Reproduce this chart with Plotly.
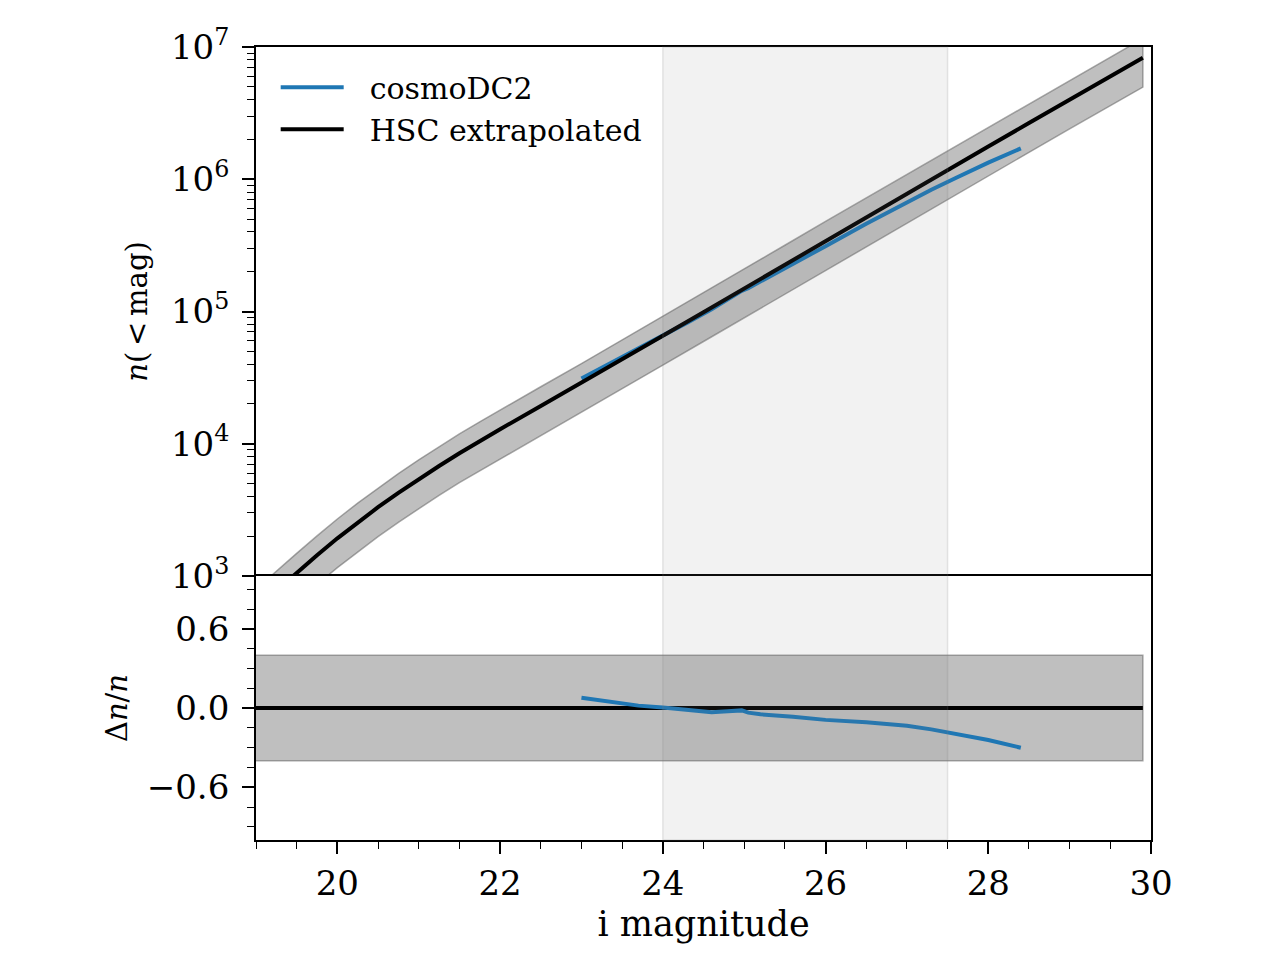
import plotly.graph_objects as go
from plotly.subplots import make_subplots

# HSC extrapolated cumulative number counts, log10 n(<mag), vs i magnitude
hsc_mag = [18.9, 19.0, 19.25, 19.5, 19.75, 20.0, 20.25, 20.5, 20.75, 21.0, 21.25, 21.5,
           21.75, 22.0, 22.5, 23.0, 23.5, 24.0, 24.5, 25.0, 25.5, 26.0, 26.5, 27.0,
           27.5, 28.0, 28.5, 29.0, 29.5, 29.9]
hsc_log10n = [2.70, 2.755, 2.89, 3.025, 3.157, 3.285, 3.405, 3.52, 3.628, 3.732, 3.832, 3.928,
              4.02, 4.11, 4.285, 4.46, 4.638, 4.816, 4.995, 5.175, 5.355, 5.535, 5.713, 5.891,
              6.069, 6.247, 6.425, 6.603, 6.78, 6.918]
hsc_frac_err = 0.4

# cosmoDC2 counts and fractional difference to HSC
cosmo_mag = [23.0, 23.2, 23.5, 23.7, 24.0, 24.3, 24.6, 24.8, 24.97, 25.05,
             25.2, 25.6, 26.0, 26.5, 27.0, 27.3, 27.6, 28.0, 28.4]
cosmo_log10n = [4.493, 4.557, 4.653, 4.717, 4.817, 4.916, 5.016, 5.092, 5.156, 5.177,
                5.226, 5.361, 5.494, 5.663, 5.829, 5.921, 6.010, 6.126, 6.233]
cosmo_dn = [0.078, 0.062, 0.035, 0.018, 0.003, -0.015, -0.033, -0.025, -0.018, -0.035,
            -0.048, -0.066, -0.090, -0.108, -0.134, -0.162, -0.197, -0.243, -0.301]

# shaded magnitude window
span_lo, span_hi = 24.0, 27.5

BLUE = "#1f77b4"
BAND = "rgba(128,128,128,0.5)"
BAND_EDGE = "rgba(100,100,100,0.55)"
FONT = "DejaVu Serif"
LW = 4

hsc_n = [10 ** v for v in hsc_log10n]
cosmo_n = [10 ** v for v in cosmo_log10n]
hsc_hi = [v * (1 + hsc_frac_err) for v in hsc_n]
hsc_lo = [v * (1 - hsc_frac_err) for v in hsc_n]

fig = make_subplots(rows=2, cols=1, shared_xaxes=True, vertical_spacing=0,
                    row_heights=[529, 264])

# top panel
fig.add_trace(go.Scatter(x=hsc_mag + hsc_mag[::-1], y=hsc_hi + hsc_lo[::-1],
                         fill="toself", fillcolor=BAND, mode="lines",
                         line=dict(color=BAND_EDGE, width=1.5),
                         showlegend=False, hoverinfo="skip"), row=1, col=1)
fig.add_trace(go.Scatter(x=cosmo_mag, y=cosmo_n, mode="lines", name="\u2002\u2009cosmoDC2",
                         line=dict(color=BLUE, width=LW)), row=1, col=1)
fig.add_trace(go.Scatter(x=hsc_mag, y=hsc_n, mode="lines", name="\u2002\u2009HSC extrapolated",
                         line=dict(color="black", width=LW)), row=1, col=1)

# bottom panel
m0, m1 = hsc_mag[0], hsc_mag[-1]
fig.add_trace(go.Scatter(x=[m0, m1, m1, m0, m0],
                         y=[-hsc_frac_err, -hsc_frac_err, hsc_frac_err, hsc_frac_err, -hsc_frac_err],
                         fill="toself", fillcolor=BAND, mode="lines",
                         line=dict(color=BAND_EDGE, width=1.5),
                         showlegend=False, hoverinfo="skip"), row=2, col=1)
fig.add_trace(go.Scatter(x=hsc_mag, y=[0.0] * len(hsc_mag), mode="lines",
                         line=dict(color="black", width=LW), showlegend=False), row=2, col=1)
fig.add_trace(go.Scatter(x=cosmo_mag, y=cosmo_dn, mode="lines",
                         line=dict(color=BLUE, width=LW), showlegend=False), row=2, col=1)

fig.add_shape(type="rect", xref="x", yref="paper", x0=span_lo, x1=span_hi, y0=0, y1=1,
              fillcolor="rgba(128,128,128,0.1)", line=dict(color="rgba(128,128,128,0.18)", width=1.5),
              layer="above")

axis_common = dict(showline=True, linecolor="black", linewidth=1.8,
                   showgrid=False, zeroline=False, ticks="outside", ticklen=12,
                   tickwidth=1.6, tickcolor="black",
                   tickfont=dict(family=FONT, size=34, color="black"))

minor_log = [k * 10 ** e for e in range(3, 7) for k in range(2, 10)]
fig.update_yaxes(type="log", range=[3, 7], mirror=True, ticklabelstandoff=6,
                 tickvals=[1e3, 1e4, 1e5, 1e6, 1e7],
                 ticktext=["10<sup>3</sup>", "10<sup>4</sup>", "10<sup>5</sup>",
                           "10<sup>6</sup>", "10<sup>7</sup>"],
                 minor=dict(tickvals=minor_log, ticks="outside", ticklen=7,
                            tickwidth=1.4, tickcolor="black"),
                 title=dict(text="<i>n</i>(\u2009&lt;\u2009mag)",
                            font=dict(family=FONT, size=29, color="black"), standoff=15),
                 row=1, col=1, **axis_common)

minor_dn = [-0.9, -0.75, -0.45, -0.3, -0.15, 0.15, 0.3, 0.45, 0.75, 0.9]
fig.update_yaxes(range=[-1.0, 1.0], mirror=True, ticklabelstandoff=6,
                 tickvals=[-0.6, 0.0, 0.6],
                 ticktext=["\u22120.6", "0.0", "0.6"],
                 minor=dict(tickvals=minor_dn, ticks="outside", ticklen=7,
                            tickwidth=1.4, tickcolor="black"),
                 title=dict(text="\u0394<i>n</i>/<i>n</i>",
                            font=dict(family=FONT, size=29, color="black"), standoff=11),
                 row=2, col=1, **axis_common)

# top panel: only its top edge; the shared boundary comes from the lower panel
fig.update_xaxes(range=[19, 30], showticklabels=False, side="top", mirror=False,
                 row=1, col=1, **{**axis_common, "ticks": ""})
fig.update_xaxes(range=[19, 30], mirror=True, tickvals=[20, 22, 24, 26, 28, 30],
                 minor=dict(dtick=0.5, tick0=19, ticks="outside", ticklen=7,
                            tickwidth=1.4, tickcolor="black"),
                 title=dict(text="i magnitude", font=dict(family=FONT, size=35, color="black"),
                            standoff=10),
                 row=2, col=1, **axis_common)

fig.update_layout(width=1280, height=960,
                  margin=dict(l=248, r=137, t=39, b=128),
                  paper_bgcolor="white", plot_bgcolor="white",
                  font=dict(family=FONT, color="black"),
                  legend=dict(x=0.022, y=0.982, xanchor="left", yanchor="top",
                              bgcolor="rgba(0,0,0,0)", font=dict(family=FONT, size=30),
                              itemwidth=63, tracegroupgap=4))

fig.write_html("out.html")
